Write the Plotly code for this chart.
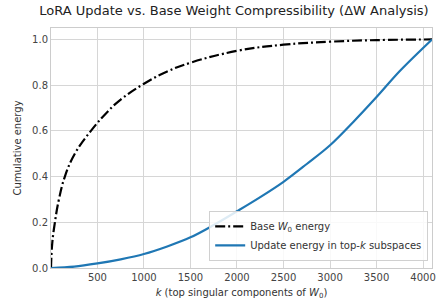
import plotly.graph_objects as go

# Data
k_base = [1, 14, 43, 86, 150, 257, 430, 607, 750, 1000, 1250, 1500, 2000, 2500, 3000, 3500, 4096]
e_base = [0.0, 0.107, 0.20, 0.30, 0.40, 0.50, 0.60, 0.683, 0.737, 0.806, 0.860, 0.898, 0.950, 0.977, 0.990, 0.997, 1.0]

k_upd = [1, 250, 500, 750, 1000, 1250, 1500, 1750, 2000, 2250, 2500, 2750, 3000, 3250, 3500, 3750, 4096]
e_upd = [0.0, 0.006, 0.02, 0.038, 0.061, 0.094, 0.134, 0.188, 0.248, 0.31, 0.377, 0.455, 0.537, 0.639, 0.748, 0.862, 1.0]

x_ticks = [500, 1000, 1500, 2000, 2500, 3000, 3500, 4000]
y_ticks = [0.0, 0.2, 0.4, 0.6, 0.8, 1.0]

font = "DejaVu Sans"

fig = go.Figure()
fig.add_trace(go.Scatter(
    x=k_base, y=e_base, mode="lines", name="Base <i>W</i><sub>0</sub> energy",
    line=dict(color="black", width=2.2, dash="10px,3px,2px,3px", shape="spline", smoothing=1.2),
))
fig.add_trace(go.Scatter(
    x=k_upd, y=e_upd, mode="lines", name="Update energy in top-<i>k</i> subspaces",
    line=dict(color="#1f77b4", width=2.2, shape="spline", smoothing=1.0),
))

fig.update_layout(
    width=448, height=304,
    margin=dict(l=51, r=16, t=28, b=36, autoexpand=False),
    paper_bgcolor="white", plot_bgcolor="white",
    font=dict(family=font, size=10, color="#333"),
    title=dict(text="LoRA Update vs. Base Weight Compressibility (ΔW Analysis)",
               x=234 / 448, xanchor="center", y=1 - 10 / 304, yanchor="middle", yref="container",
               font=dict(family=font, size=13, color="#222")),
    showlegend=True,
    legend=dict(x=0.99, y=0.03, xanchor="right", yanchor="bottom",
                bgcolor="rgba(255,255,255,0.85)", bordercolor="#d0d0d0", borderwidth=1,
                font=dict(family=font, size=10, color="#333"),
                tracegroupgap=0, itemwidth=30),
)
fig.update_xaxes(
    range=[1, 4096], tickvals=x_ticks, ticktext=[str(v) for v in x_ticks],
    showgrid=True, gridcolor="#d6d6d6", gridwidth=1, zeroline=False,
    showline=True, linecolor="#cccccc", linewidth=1, mirror=True, automargin=False,
    ticks="", tickfont=dict(size=10, color="#444"),
    title=dict(text="<i>k</i> (top singular components of <i>W</i><sub>0</sub>)", standoff=6,
               font=dict(size=10, color="#333")),
)
fig.update_yaxes(
    range=[0, 1.05], tickvals=y_ticks, ticktext=[f"{v:.1f}" for v in y_ticks],
    showgrid=True, gridcolor="#d6d6d6", gridwidth=1, zeroline=False,
    showline=True, linecolor="#cccccc", linewidth=1, mirror=True, automargin=False,
    ticks="", tickfont=dict(size=10, color="#444"),
    title=dict(text="Cumulative energy", standoff=8, font=dict(size=10, color="#333")),
)

fig.write_html("out.html", config={"displayModeBar": False},
               post_script="document.body.style.margin='0';document.body.style.overflow='hidden';")
